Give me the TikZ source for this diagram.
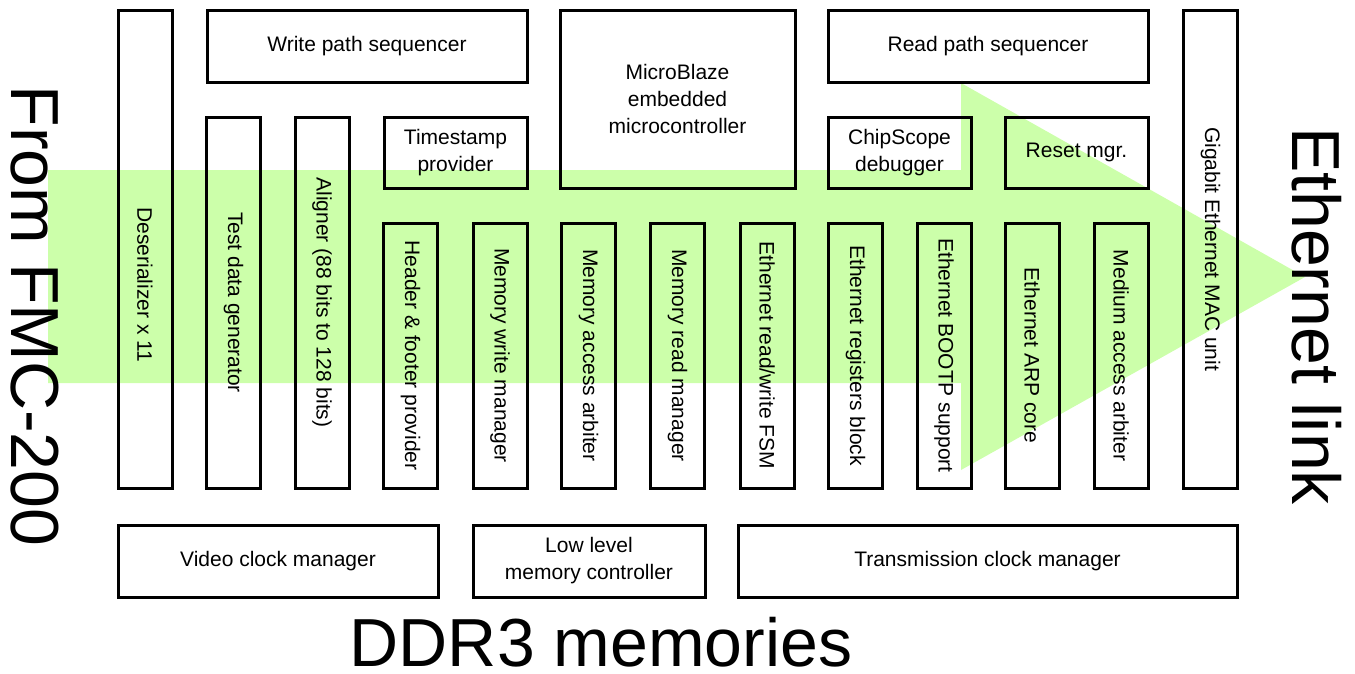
\documentclass[tikz,border=0pt]{standalone}
\usepackage{fontspec}
\setmainfont{Liberation Sans}
\definecolor{arrowgreen}{RGB}{204,255,170}
\begin{document}
\begin{tikzpicture}[x=1pt,y=-1pt,
  box/.style={draw=black, line width=3pt, inner sep=0pt, align=center,
              font=\fontsize{21}{27}\selectfont},
  vbox/.style={box, rotate=-90, minimum width=#1, minimum height=54pt},
  lbl/.style={inner sep=0pt, rotate=-90, font=\fontsize{21}{27}\selectfont},
  big/.style={inner sep=0pt, font=\fontsize{68}{80}\selectfont}]
\useasboundingbox (0,0) rectangle (1355,673);
% big arrow
\fill[arrowgreen] (48,170) -- (961,170) -- (961,83) -- (1305,277) -- (961,470) -- (961,383) -- (48,383) -- cycle;
% horizontal boxes
\node[box, minimum width=320pt, minimum height=72pt] (wps) at (367,46) {Write path sequencer};
\node[box, minimum width=320pt, minimum height=72pt] (rps) at (988,46) {Read path sequencer};
\node[box, minimum width=235pt, minimum height=178pt] (mb) at (677.5,99) {MicroBlaze\\embedded\\microcontroller};
\node[box, minimum width=143pt, minimum height=71pt] (ts) at (455.5,152.5) {Timestamp\\provider};
\node[box, minimum width=143pt, minimum height=71pt] (cs) at (899.5,152.5) {ChipScope\\debugger};
\node[box, minimum width=143pt, minimum height=71pt] (rm) at (1076.5,152.5) {Reset mgr.};
\node[box, minimum width=320pt, minimum height=72pt] (vcm) at (278,561) {Video clock manager};
\node[box, minimum width=232pt, minimum height=72pt] (llmc) at (589,561) {Low level\\memory controller};
\node[box, minimum width=499pt, minimum height=72pt] (tcm) at (987.5,561) {Transmission clock manager};
% vertical boxes
\node[vbox=478pt] (des) at (145,249) {};
\node[lbl] (deslbl) at (145,285) {Deserializer x 11};
\node[vbox=371pt] (tdg) at (233.5,302.5) {Test data generator};
\node[vbox=371pt] (al) at (322,302.5) {Aligner (88 bits to 128 bits)};
\node[vbox=265pt] (hfp) at (410.5,355.5) {Header \& footer provider};
\node[vbox=265pt] (mwm) at (500,355.5) {Memory write manager};
\node[vbox=265pt] (maa) at (588.5,355.5) {Memory access arbiter};
\node[vbox=265pt] (mrm) at (677.5,355.5) {Memory read manager};
\node[vbox=265pt] (erw) at (767,355.5) {Ethernet read/write FSM};
\node[vbox=265pt] (erb) at (855.5,355.5) {Ethernet registers block};
\node[vbox=265pt] (ebs) at (944,355.5) {Ethernet BOOTP support};
\node[vbox=265pt] (earp) at (1032,355.5) {Ethernet ARP core};
\node[vbox=265pt] (mda) at (1121,355.5) {Medium access arbiter};
\node[vbox=478pt] (gem) at (1210.5,249) {Gigabit Ethernet MAC unit};
% big labels
\node[big, rotate=-90, anchor=base] (from) at (12,316) {From FMC-200};
\node[big, rotate=-90, anchor=base] (eth) at (1292,316) {Ethernet link};
\node[big, anchor=base, text depth=0pt] (ddr) at (601,666) {DDR3 memories};
\end{tikzpicture}
\end{document}
